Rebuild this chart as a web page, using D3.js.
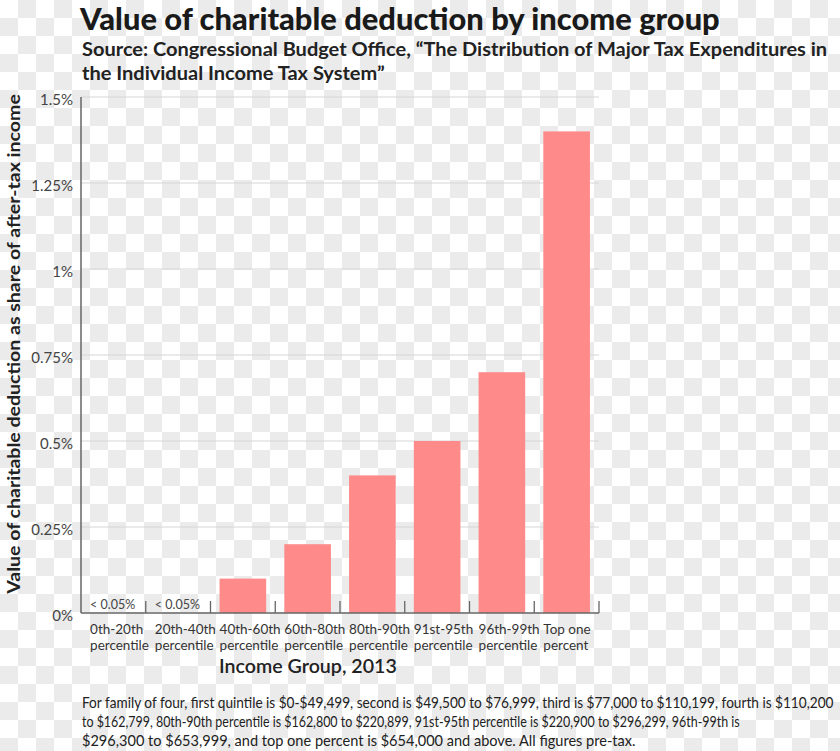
<!DOCTYPE html>
<html><head><meta charset="utf-8">
<script src="https://cdn.jsdelivr.net/npm/d3@7"></script>
<style>body{margin:0;background:#fff}svg{display:block}</style>
</head><body>
<svg id="chart" width="840" height="751"></svg>
<script>
// ---- data ----
const categories = ["0th-20th percentile","20th-40th percentile","40th-60th percentile","60th-80th percentile","80th-90th percentile","91st-95th percentile","96th-99th percentile","Top one percent"];
const labelLine1 = ["0th-20th","20th-40th","40th-60th","60th-80th","80th-90th","91st-95th","96th-99th","Top one"];
const labelLine2 = ["percentile","percentile","percentile","percentile","percentile","percentile","percentile","percent"];
const values = [0, 0, 0.1, 0.2, 0.4, 0.5, 0.7, 1.4]; // percent of after-tax income
const notes = ["< 0.05%","< 0.05%","","","","","",""];
const yTicks = [0, 0.25, 0.5, 0.75, 1, 1.25, 1.5];
const yTickLabels = ["0%","0.25%","0.5%","0.75%","1%","1.25%","1.5%"];
const titleText = "Value of charitable deduction by income group";
const subtitleLines = ["Source: Congressional Budget Office, \u201CThe Distribution of Major Tax Expenditures in","the Individual Income Tax System\u201D"];
const yTitle = "Value of charitable deduction as share of after-tax income";
const xTitle = "Income Group, 2013";
const footLines = [
 "For family of four, first quintile is $0-$49,499, second is $49,500 to $76,999, third is $77,000 to $110,199, fourth is $110,200",
 "to $162,799, 80th-90th percentile is $162,800 to $220,899, 91st-95th percentile is $220,900 to $296,299, 96th-99th is",
 "$296,300 to $653,999, and top one percent is $654,000 and above. All figures pre-tax."
];

// ---- drawing ----
const svg = d3.select("#chart");
const FONT = "Lato, 'Open Sans', sans-serif";

// place a text at (x,y) and squeeze it horizontally to a target width
function fitText(parent, str, px, py, target, attrs, rotate) {
  const t = parent.append("text").text(str);
  Object.entries(attrs).forEach(([k, v]) => t.attr(k, v));
  const w = t.node().getComputedTextLength();
  const s = Math.min(1.15, target / w);
  t.attr("transform", `translate(${px},${py})` + (rotate ? " rotate(-90)" : "") + ` scale(${s},1)`);
  return t;
}

// checkered background
const defs = svg.append("defs");
const pat = defs.append("pattern").attr("id","chk").attr("width",36).attr("height",36).attr("patternUnits","userSpaceOnUse");
pat.append("rect").attr("width",36).attr("height",36).attr("fill","#ffffff");
pat.append("rect").attr("x",18).attr("y",0).attr("width",18).attr("height",18).attr("fill","#ebebeb");
pat.append("rect").attr("x",0).attr("y",18).attr("width",18).attr("height",18).attr("fill","#ebebeb");
svg.append("rect").attr("width",840).attr("height",751).attr("fill","url(#chk)");

const x = d3.scaleBand().domain(categories).range([81, 599]).paddingInner(0.28).paddingOuter(0.14);
const y = d3.scaleLinear().domain([0, 1.5]).range([613, 97]);

// gridlines
svg.append("g").selectAll("line").data(yTicks.filter(d => d > 0)).join("line")
  .attr("x1", 81).attr("x2", 599)
  .attr("y1", d => y(d)).attr("y2", d => y(d))
  .attr("stroke", "#d6d6d6").attr("stroke-width", 1);

// y tick labels
svg.append("g").selectAll("text").data(yTicks).join("text")
  .attr("x", 73).attr("y", d => y(d) + 8)
  .attr("text-anchor", "end")
  .attr("font-family", FONT).attr("font-size", 15).attr("fill", "#444")
  .text((d, i) => yTickLabels[i]);

// bars
svg.append("g").selectAll("rect").data(categories).join("rect")
  .attr("x", d => x(d)).attr("width", x.bandwidth())
  .attr("y", (d, i) => y(values[i]))
  .attr("height", (d, i) => y(0) - y(values[i]))
  .attr("fill", "#ff8a8a");

// axes lines
svg.append("line").attr("x1", 81).attr("x2", 81).attr("y1", y(1.5)).attr("y2", y(0))
  .attr("stroke", "#666").attr("stroke-width", 1.5);
svg.append("line").attr("x1", 81).attr("x2", 599).attr("y1", y(0)).attr("y2", y(0))
  .attr("stroke", "#666").attr("stroke-width", 1.5);
// separator ticks (pointing up)
const step = x.step();
svg.append("g").selectAll("line").data(categories).join("line")
  .attr("x1", d => x(d) + x.bandwidth() + (step - x.bandwidth()) / 2)
  .attr("x2", d => x(d) + x.bandwidth() + (step - x.bandwidth()) / 2)
  .attr("y1", y(0)).attr("y2", y(0) - 12)
  .attr("stroke", "#666").attr("stroke-width", 1.3);

// notes
svg.append("g").selectAll("text").data(categories).join("text")
  .attr("x", d => x(d)).attr("y", 609)
  .attr("font-family", FONT).attr("font-size", 12.5).attr("fill", "#444")
  .text((d, i) => notes[i]);

// x labels
const xl = svg.append("g").selectAll("text").data(categories).join("text")
  .attr("font-family", FONT).attr("font-size", 13.5).attr("fill", "#333");
xl.append("tspan").attr("x", d => x(d)).attr("y", 634).text((d, i) => labelLine1[i]);
xl.append("tspan").attr("x", d => x(d)).attr("y", 650).text((d, i) => labelLine2[i]);

// x title
fitText(svg, xTitle, 219, 673, 178,
  {"font-family": FONT, "font-size": 19, "font-weight": 600, "fill": "#222"});

// y title (rotated, centered at y=344)
fitText(svg, yTitle, 20, 344, 512,
  {"font-family": FONT, "font-size": 17, "font-weight": 700, "fill": "#222", "text-anchor": "middle"}, true);

// title
fitText(svg, titleText, 80, 30, 640,
  {"font-family": FONT, "font-size": 30, "font-weight": 900, "fill": "#1a1a1a"});

// subtitle
const subLens = [746, 303];
const sg = svg.append("g");
subtitleLines.forEach((s, i) => fitText(sg, s, 82, 56 + i * 24, subLens[i],
  {"font-family": FONT, "font-size": 18, "font-weight": 700, "fill": "#222"}));

// footnote
const footLens = [752, 658, 554];
const fg = svg.append("g");
footLines.forEach((s, i) => fitText(fg, s, 82, 708 + i * 19, footLens[i],
  {"font-family": FONT, "font-size": 14.5, "fill": "#222"}));
</script>
</body></html>
